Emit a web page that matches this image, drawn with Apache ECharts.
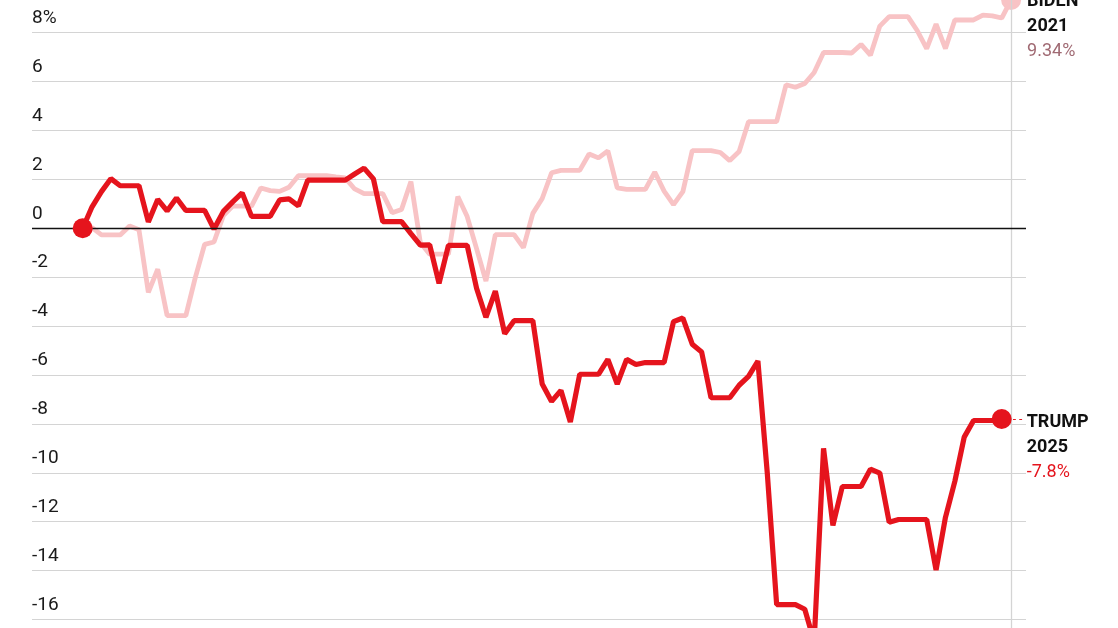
<!DOCTYPE html>
<html>
<head>
<meta charset="utf-8">
<script src="https://cdn.jsdelivr.net/npm/echarts@6/dist/echarts.min.js"></script>
<style>
html,body{margin:0;padding:0;background:#fff;}
#chart{width:1118px;height:628px;}
</style>
</head>
<body>
<div id="chart"></div>
<script>
// % change of the S&P 500 by calendar day since inauguration (day 0 = Jan 20)
const trump2025 = [
  0, 0.88, 1.50, 2.03, 1.74, 1.74, 1.74, 0.26, 1.18, 0.71,
  1.24, 0.73, 0.73, 0.73, -0.03, 0.69, 1.08, 1.45, 0.49, 0.49,
  0.49, 1.16, 1.20, 0.92, 1.97, 1.97, 1.97, 1.97, 1.97, 2.22,
  2.46, 2.02, 0.27, 0.27, 0.27, -0.22, -0.69, -0.68, -2.25, -0.70,
  -0.70, -0.70, -2.45, -3.64, -2.57, -4.31, -3.78, -3.78, -3.78, -6.37,
  -7.08, -6.63, -7.92, -5.97, -5.97, -5.97, -5.36, -6.37, -5.36, -5.57,
  -5.49, -5.49, -5.49, -3.82, -3.67, -4.74, -5.06, -6.93, -6.93, -6.93,
  -6.42, -6.06, -5.43, -10.01, -15.39, -15.39, -15.39, -15.58, -16.91, -9.00,
  -12.15, -10.56, -10.56, -10.56, -9.85, -10.01, -12.02, -11.91, -11.91, -11.91,
  -11.91, -13.98, -11.82, -10.35, -8.54, -7.86, -7.86, -7.86, -7.80
];
const biden2021 = [
  0, 0.03, -0.27, -0.27, -0.27, 0.09, -0.06, -2.62, -1.67, -3.57,
  -3.57, -3.57, -2.03, -0.66, -0.56, 0.52, 0.91, 0.91, 0.91, 1.65,
  1.54, 1.51, 1.68, 2.15, 2.15, 2.15, 2.15, 2.10, 2.06, 1.61,
  1.42, 1.42, 1.42, 0.64, 0.77, 1.91, -0.58, -1.06, -1.06, -1.06,
  1.30, 0.48, -0.83, -2.16, -0.26, -0.26, -0.26, -0.79, 0.61, 1.22,
  2.27, 2.37, 2.37, 2.37, 3.04, 2.88, 3.17, 1.65, 1.59, 1.59,
  1.59, 2.30, 1.52, 0.97, 1.50, 3.18, 3.18, 3.18, 3.10, 2.77,
  3.14, 4.36, 4.36, 4.36, 4.36, 5.87, 5.77, 5.92, 6.37, 7.19,
  7.19, 7.19, 7.17, 7.52, 7.08, 8.27, 8.66, 8.66, 8.66, 8.08,
  7.35, 8.35, 7.35, 8.52, 8.52, 8.52, 8.72, 8.69, 8.60, 9.34
];
const seriesNames = ['TRUMP', 'BIDEN'];
const seriesYears = ['2025', '2021'];
const finalLabels = ['-7.8%', '9.34%'];
const yTickTop = 8;      // top tick shows the % sign
const yTickBottom = -16;

const RED = '#e5141d';
const PINK = '#f8c3c5';
const MAUVE = '#a06a73';
const FONT = 'Roboto, "Liberation Sans", sans-serif';

const toXY = arr => arr.map((v, i) => [i, v]);
const tLast = trump2025.length - 1;
const bLast = biden2021.length - 1;

const nameStyle = { fontFamily: FONT, fontWeight: 'bold', fontSize: 18, color: '#111', lineHeight: 25 };
const X_MIN = -5.406, X_MAX = 100.589;

const chart = echarts.init(document.getElementById('chart'), null, { renderer: 'canvas' });
chart.setOption({
  animation: false,
  backgroundColor: '#fff',
  grid: [
    { left: 32, width: 994, top: 32.7, height: 586.8, containLabel: false, outerBoundsMode: 'none' },
    { left: 32, width: 994, top: 0, height: 628, containLabel: false, outerBoundsMode: 'none' }
  ],
  xAxis: [
    { type: 'value', gridIndex: 0, min: X_MIN, max: X_MAX, show: false },
    { type: 'value', gridIndex: 1, min: X_MIN, max: X_MAX, show: false }
  ],
  yAxis: [
    {
      type: 'value', gridIndex: 0, min: yTickBottom, max: yTickTop, interval: 2,
      axisLine: { show: false }, axisTick: { show: false },
      splitLine: { show: true, lineStyle: { color: '#d4d4d4', width: 1.2 } },
      axisLabel: {
        inside: true, margin: 0, align: 'left', verticalAlign: 'bottom',
        padding: [0, 0, 5, 0], showMinLabel: true, showMaxLabel: true,
        fontFamily: FONT, fontSize: 19, color: '#1a1a1a',
        formatter: v => {
          if (v === yTickTop) return v + '%';
          return v < 0 ? '-' + Math.abs(v) : String(v);
        }
      }
    },
    { type: 'value', gridIndex: 1, min: 0, max: 1, show: false }
  ],
  series: [
    {
      name: 'end rule', type: 'line', xAxisIndex: 1, yAxisIndex: 1, data: [],
      z: 1, silent: true,
      markLine: {
        silent: true, symbol: ['none', 'none'], label: { show: false },
        data: [{ xAxis: bLast }],
        lineStyle: { color: '#d4d4d4', width: 1.3, type: 'solid' }
      }
    },
    {
      name: 'Biden 2021', type: 'line', data: toXY(biden2021),
      showSymbol: false, symbol: 'none', clip: false, z: 2,
      lineStyle: { color: PINK, width: 4.8 },
      markLine: {
        silent: true, symbol: ['none', 'none'], label: { show: false },
        data: [{ yAxis: 0 }],
        lineStyle: { color: '#111', width: 1.3, type: 'solid' }
      }
    },
    {
      name: 'Trump 2025', type: 'line', data: toXY(trump2025),
      showSymbol: false, symbol: 'none', clip: false, z: 3,
      lineStyle: { color: RED, width: 5.2 }
    },
    {
      name: 'Biden end', type: 'scatter', clip: false, z: 4,
      symbolSize: 20, itemStyle: { color: PINK, opacity: 1 },
      data: [{
        value: [bLast, biden2021[bLast]],
        label: {
          show: true, position: 'right', distance: 6, offset: [0, 27],
          formatter: '{n|' + seriesNames[1] + '}\n{n|' + seriesYears[1] + '}\n{p|' + finalLabels[1] + '}',
          rich: {
            n: nameStyle,
            p: { fontFamily: FONT, fontSize: 18, color: MAUVE, lineHeight: 25 }
          }
        }
      }]
    },
    {
      name: 'Trump dots', type: 'scatter', clip: false, z: 5,
      symbolSize: 20, itemStyle: { color: RED, opacity: 1 },
      data: [
        { value: [0, trump2025[0]] },
        {
          value: [tLast, trump2025[tLast]],
          label: {
            show: true, position: 'right', distance: 1, offset: [0, 28],
            formatter: '{d|- -}{n|' + seriesNames[0] + '}\n{g|\u00a0}{n|' + seriesYears[0] + '}\n{g|\u00a0}{p|' + finalLabels[0] + '}',
            rich: {
              d: { fontFamily: FONT, fontSize: 12, color: RED, width: 14, lineHeight: 25, verticalAlign: 'middle', padding: [0, 0, 4, 0] },
              g: { fontSize: 10, width: 14, lineHeight: 25 },
              n: nameStyle,
              p: { fontFamily: FONT, fontSize: 18, color: RED, lineHeight: 25 }
            }
          }
        }
      ]
    }
  ]
});
</script>
</body>
</html>
